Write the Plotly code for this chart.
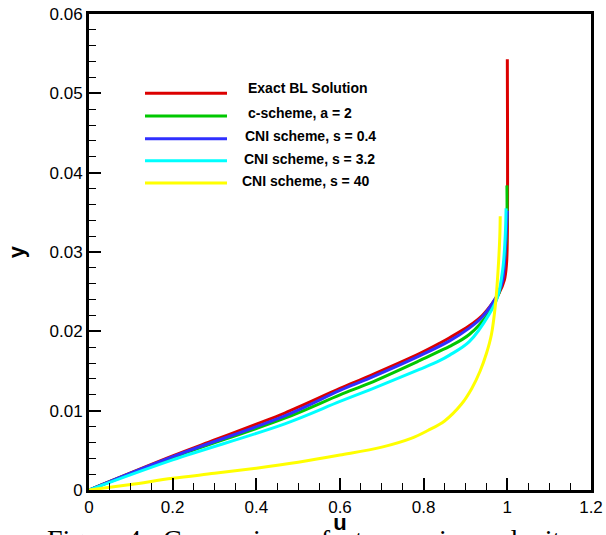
import plotly.graph_objects as go

# ---------------- data ----------------
series_names = ["Exact BL Solution", "c-scheme, a = 2", "CNI scheme, s = 0.4",
                "CNI scheme, s = 3.2", "CNI scheme, s = 40"]

exact_u = [0, 0.2, 0.3, 0.4, 0.468, 0.6, 0.671, 0.79, 0.838, 0.862, 0.909, 0.94,
           0.965, 0.98, 0.993, 0.998, 1.0, 1.0]
exact_y = [0, 0.0043, 0.0063, 0.0083, 0.0097, 0.0128, 0.0144, 0.0172, 0.0185, 0.0192,
           0.0207, 0.0220, 0.0236, 0.0248, 0.0265, 0.0285, 0.032, 0.0543]

cs_u = [0, 0.2, 0.468, 0.6, 0.671, 0.79, 0.838, 0.862, 0.909, 0.957, 0.972, 0.985,
        0.995, 0.999, 0.999]
cs_y = [0, 0.0041, 0.00905, 0.0120, 0.01347, 0.0163, 0.0175, 0.0181, 0.0196, 0.0224,
        0.0238, 0.0257, 0.0299, 0.0341, 0.0384]

cni04_u = [0, 0.2, 0.468, 0.6, 0.671, 0.79, 0.862, 0.909, 0.94, 0.965, 0.98, 0.989,
           0.9945, 0.999, 1.0]
cni04_y = [0, 0.0042, 0.00935, 0.01255, 0.0141, 0.0169, 0.0188, 0.0204, 0.0218,
           0.02358, 0.0250, 0.0265, 0.0299, 0.0341, 0.0352]

cni32_u = [0, 0.2, 0.468, 0.6, 0.671, 0.79, 0.838, 0.862, 0.909, 0.957, 0.977, 0.989,
           0.995, 0.997]
cni32_y = [0, 0.0038, 0.00834, 0.01116, 0.01263, 0.0152, 0.0163, 0.0170, 0.0187,
           0.0222, 0.0244, 0.0278, 0.032, 0.0355]

cni40_u = [0, 0.1, 0.2, 0.3, 0.4, 0.5, 0.6, 0.7, 0.77, 0.81, 0.85, 0.89, 0.915, 0.935,
           0.95, 0.962, 0.972, 0.978, 0.982, 0.983]
cni40_y = [0, 0.0007, 0.00147, 0.0021, 0.00275, 0.0035, 0.0044, 0.0054, 0.0065, 0.0075,
           0.0087, 0.0108, 0.0128, 0.0150, 0.0172, 0.0196, 0.0236, 0.0278, 0.032, 0.0345]

x_tickvals = [0, 0.2, 0.4, 0.6, 0.8, 1.0, 1.2]
x_ticktext = ["0", "0.2", "0.4", "0.6", "0.8", "1", "1.2"]
y_tickvals = [0, 0.01, 0.02, 0.03, 0.04, 0.05, 0.06]
y_ticktext = ["0", "0.01", "0.02", "0.03", "0.04", "0.05", "0.06"]

caption = "Figure 4:  Comparison of  streamwise  velocity"

# ---------------- style ----------------
colors = ["#dc0000", "#00c800", "#3030ff", "#00ffff", "#ffff00"]
series = [(exact_u, exact_y), (cs_u, cs_y), (cni04_u, cni04_y),
          (cni32_u, cni32_y), (cni40_u, cni40_y)]

W, H = 606, 535
L, R, T, B = 89, 15, 14, 45
pw, ph = W - L - R, H - T - B


def px(xp):
    return (xp - L) / pw


def py(yp):
    return (H - B - yp) / ph


fig = go.Figure()
for (u, y), name, c in zip(series, series_names, colors):
    fig.add_trace(go.Scatter(x=u, y=y, mode="lines", name=name,
                             line=dict(color=c, width=3, shape="spline", smoothing=1.0),
                             showlegend=False))

# custom legend (lines + labels) placed like the reference
leg_line_y = [93.3, 116, 138.7, 160.7, 183]
leg_text_y = [88, 113, 136, 159, 181]
leg_text_x = [246, 246, 243, 242, 240]
for i, name in enumerate(series_names):
    fig.add_shape(type="line", xref="paper", yref="paper",
                  x0=px(145), x1=px(227), y0=py(leg_line_y[i]), y1=py(leg_line_y[i]),
                  line=dict(color=colors[i], width=3))
    fig.add_annotation(xref="paper", yref="paper", x=px(leg_text_x[i]), y=py(leg_text_y[i]),
                       xanchor="left", yanchor="middle", showarrow=False,
                       text="<b>%s</b>" % name,
                       font=dict(family="Liberation Sans, Arial", size=14, color="black"))

# caption (cut off at the bottom edge in the reference)
fig.add_annotation(xref="paper", yref="paper", x=px(45), y=py(522), xanchor="left",
                   yanchor="top", showarrow=False, text=caption,
                   font=dict(family="Liberation Serif, Times New Roman", size=28, color="black"))

axis_common = dict(showline=True, linecolor="black", linewidth=3, mirror=True,
                   ticks="inside", ticklen=12, tickwidth=2, tickcolor="black",
                   showgrid=False, zeroline=False, automargin=False,
                   tickfont=dict(family="Liberation Sans, Arial", size=17, color="black"))

fig.update_xaxes(range=[0, 1.2], tickvals=x_tickvals, ticktext=x_ticktext,
                 minor=dict(dtick=0.05, ticks="inside", ticklen=7, tickwidth=1,
                            tickcolor="black", showgrid=False),
                 title=dict(text="<b>u</b>", standoff=8,
                            font=dict(family="Liberation Sans, Arial", size=22, color="black")),
                 **axis_common)
fig.update_yaxes(range=[0, 0.06], tickvals=y_tickvals, ticktext=y_ticktext,
                 minor=dict(dtick=0.002, ticks="inside", ticklen=7, tickwidth=1,
                            tickcolor="black", showgrid=False),
                 title=dict(text="<b>y</b>", standoff=19,
                            font=dict(family="Liberation Sans, Arial", size=22, color="black")),
                 **axis_common)

fig.update_layout(width=W, height=H, margin=dict(l=L, r=R, t=T, b=B),
                  plot_bgcolor="white", paper_bgcolor="white", showlegend=False)

fig.write_html("out.html", config={"displayModeBar": False},
               post_script="document.body.style.margin='0';document.body.style.overflow='hidden';")
